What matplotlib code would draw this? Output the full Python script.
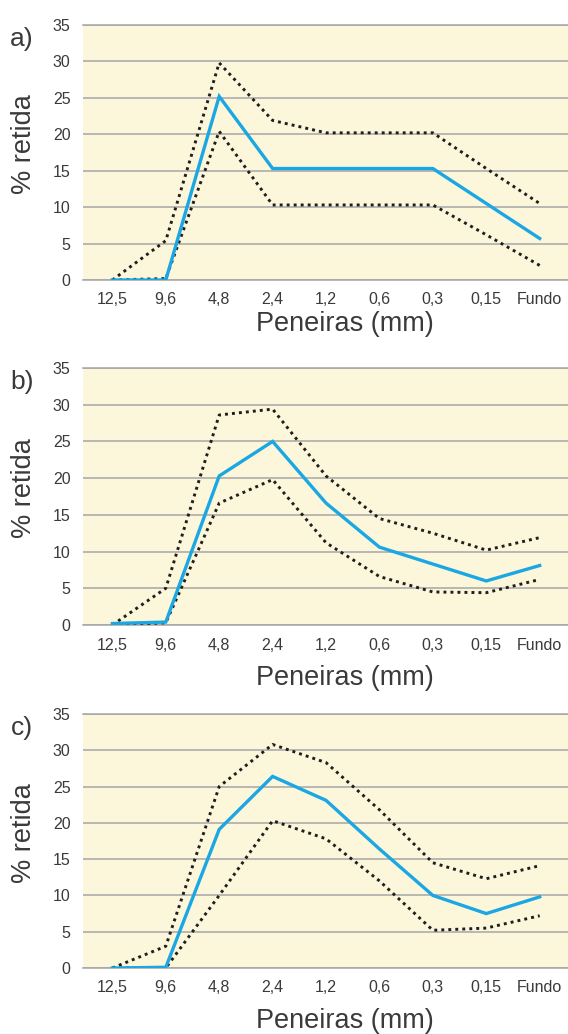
import matplotlib
matplotlib.use("Agg")
import matplotlib.pyplot as plt

# -----------------------------
# Data
# -----------------------------
peneiras = ["12,5", "9,6", "4,8", "2,4", "1,2", "0,6", "0,3", "0,15", "Fundo"]

a_media = [0, 0, 25.2, 15.3, 15.3, 15.3, 15.3, 10.5, 5.7]
a_sup = [0, 5.4, 29.8, 21.9, 20.2, 20.2, 20.2, 15.3, 10.5]
a_inf = [0, 0.2, 20.4, 10.3, 10.3, 10.3, 10.3, 6.2, 2.0]

b_media = [0.2, 0.4, 20.3, 25.0, 16.6, 10.6, 8.3, 6.0, 8.1]
b_sup = [0, 5.0, 28.6, 29.4, 20.3, 14.5, 12.5, 10.2, 11.9]
b_inf = [0, 0.3, 16.6, 19.8, 11.2, 6.6, 4.5, 4.4, 6.2]

c_media = [0, 0.1, 19.1, 26.4, 23.1, 16.4, 10.0, 7.5, 9.8]
c_sup = [0, 3.0, 25.0, 30.8, 28.3, 21.8, 14.5, 12.3, 14.1]
c_inf = [0, 0, 10.0, 20.3, 17.8, 12.0, 5.2, 5.5, 7.2]

yticks = [0, 5, 10, 15, 20, 25, 30, 35]

painel_labels = ["a)", "b)", "c)"]
series = [(a_media, a_sup, a_inf), (b_media, b_sup, b_inf), (c_media, c_sup, c_inf)]

# -----------------------------
# Layout (pixels -> figure fraction)
# -----------------------------
W, H = 568, 1034
FONT = "Liberation Sans"
TXT = "#3a3a3a"
BG = "#fcf7da"
GRID = "#a6a6a6"
BLUE = "#1aa7e3"

# top, bottom of each plot area and xlabel offset (px)
boxes = [(25, 280, 44), (368, 625, 53), (714, 968, 53)]
left_px, right_px = 83, 568

fig = plt.figure(figsize=(W / 100, H / 100), dpi=100)

for (top, bot, xl_off), lab, (med, sup, inf) in zip(boxes, painel_labels, series):
    ax = fig.add_axes([left_px / W, 1 - bot / H, (right_px - left_px) / W, (bot - top) / H])
    ax.set_facecolor(BG)
    x = range(len(peneiras))

    ax.plot(x, sup, color="#1e1e1e", lw=2.1, linestyle=(0, (1, 1.4)), zorder=3)
    ax.plot(x, inf, color="#1e1e1e", lw=2.1, linestyle=(0, (1, 1.4)), zorder=3)
    ax.plot(x, med, color=BLUE, lw=2.4, zorder=4, solid_joinstyle="miter")

    ax.set_xlim(-0.55, 8.53)
    ax.set_ylim(0, 35)
    ax.set_yticks(yticks)
    ax.set_xticks(list(x))
    ax.set_xticklabels(peneiras)
    ax.yaxis.grid(True, color=GRID, lw=1.1, zorder=1)
    ax.set_axisbelow(True)
    for s in ["left", "right"]:
        ax.spines[s].set_visible(False)
    for s in ["top", "bottom"]:
        ax.spines[s].set_color(GRID)
        ax.spines[s].set_linewidth(1.1)
    ax.tick_params(axis="both", length=0, labelsize=11.5, labelcolor=TXT)
    ax.tick_params(axis="y", pad=9)
    ax.tick_params(axis="x", pad=9)
    for t in ax.get_xticklabels() + ax.get_yticklabels():
        t.set_fontfamily(FONT)

    # panel letter, y label, x label
    fig.text(22 / W, 1 - (top + 14) / H, lab, fontsize=19, color=TXT,
             family=FONT, ha="center", va="center")
    fig.text(24 / W, 1 - ((top + bot) / 2 - 8) / H, "% retida", fontsize=19.5,
             color=TXT, family=FONT, rotation=90, ha="center", va="center")
    fig.text(345 / W, 1 - (bot + xl_off) / H, "Peneiras (mm)", fontsize=19.5,
             color=TXT, family=FONT, ha="center", va="center")

fig.savefig("out.png", dpi=100, facecolor="white")
